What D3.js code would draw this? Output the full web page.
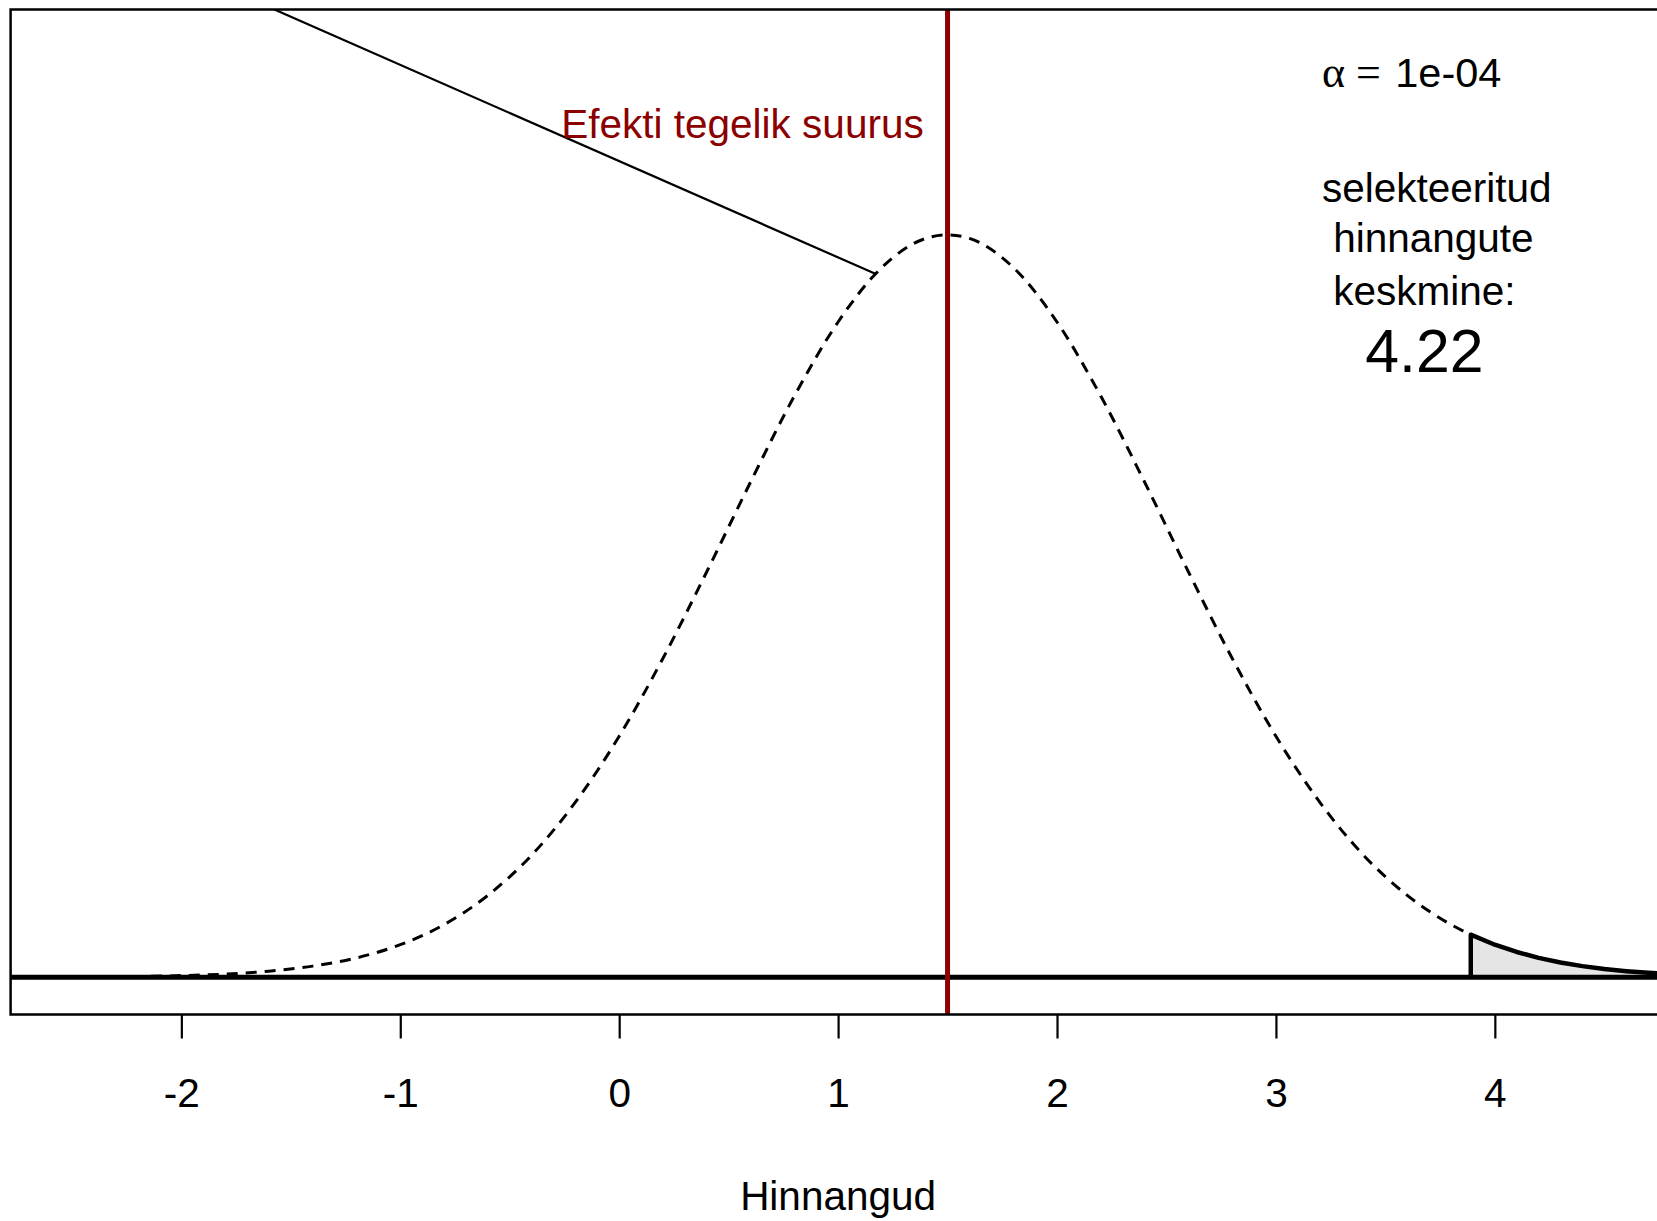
<!DOCTYPE html>
<html>
<head>
<meta charset="utf-8">
<script src="https://cdnjs.cloudflare.com/ajax/libs/d3/7.8.5/d3.min.js"></script>
<style>
  html, body { margin: 0; padding: 0; background: #ffffff; }
  svg { display: block; }
  text { font-family: "Liberation Sans", Arial, Helvetica, sans-serif; }
</style>
</head>
<body>
<svg id="chart" width="1657" height="1221"></svg>
<script>
// ---- data ----
const xTicks = [-2, -1, 0, 1, 2, 3, 4];
const xTickLabels = ["-2", "-1", "0", "1", "2", "3", "4"];
const xLabel = "Hinnangud";

// sampling distribution of the estimates (dashed curve)
const curveX = [-2.4, -2.2, -2.0, -1.8, -1.6, -1.4, -1.2, -1.0, -0.8, -0.6, -0.4, -0.2,
                0.0, 0.2, 0.4, 0.6, 0.8, 1.0, 1.2, 1.4, 1.5, 1.6, 1.8, 2.0, 2.2, 2.4,
                2.6, 2.8, 3.0, 3.2, 3.4, 3.6, 3.8, 3.89];
const curveY = [0.0002, 0.0004, 0.0009, 0.0017, 0.0033, 0.0060, 0.0104, 0.0175, 0.0283, 0.0440, 0.0656, 0.0941,
                0.1295, 0.1714, 0.2179, 0.2661, 0.3123, 0.3521, 0.3814, 0.3970, 0.3989, 0.3970, 0.3814, 0.3521, 0.3123, 0.2661,
                0.2179, 0.1714, 0.1295, 0.0941, 0.0656, 0.0440, 0.0283, 0.0229];

// selected (significant) tail
const tailX = [3.89, 4.0, 4.1, 4.2, 4.3, 4.4, 4.5, 4.6, 4.7, 4.8];
const tailY = [0.0229, 0.0175, 0.0136, 0.0104, 0.0079, 0.0060, 0.0044, 0.0033, 0.0024, 0.0017];

const trueEffect = 1.5;
const trueEffectLabel = "Efekti tegelik suurus";
const pointerLine = [[-1.575, 0.52], [1.17, 0.378]];

const alphaValue = "1e-04";
const meanLabelLines = ["selekteeritud", " hinnangute", " keskmine:"];
const selectedMean = "4.22";

// ---- scales ----
const svg = d3.select("#chart");
const x = d3.scaleLinear().domain([-2.78, 4.78]).range([10.6, 1665.6]);
const y = d3.scaleLinear().domain([-0.02, 0.52]).range([1014.5, 9.5]);

const [x0, x1] = x.range();
const [yb, yt] = y.range();

svg.append("defs").append("clipPath").attr("id", "plotclip")
  .append("rect").attr("x", x0).attr("y", yt).attr("width", x1 - x0).attr("height", yb - yt);

const plot = svg.append("g").attr("clip-path", "url(#plotclip)");

// shaded tail
const tailPts = tailX.map((v, i) => [v, tailY[i]]);
const area = d3.area().x(d => x(d[0])).y0(y(0)).y1(d => y(d[1]));
plot.append("path").datum(tailPts)
  .attr("d", area).attr("fill", "#e5e5e5").attr("stroke", "none");

// y = 0 baseline
plot.append("line")
  .attr("x1", x0).attr("x2", x1).attr("y1", y(0)).attr("y2", y(0))
  .attr("stroke", "#000").attr("stroke-width", 5);

// tail outline
const tailOutline = [[tailX[0], 0]].concat(tailPts);
plot.append("path").datum(tailOutline)
  .attr("d", d3.line().x(d => x(d[0])).y(d => y(d[1])))
  .attr("fill", "none").attr("stroke", "#000").attr("stroke-width", 4.5)
  .attr("stroke-linejoin", "round");

// dashed sampling distribution
const curvePts = curveX.map((v, i) => [v, curveY[i]]);
plot.append("path").datum(curvePts)
  .attr("d", d3.line().x(d => x(d[0])).y(d => y(d[1])).curve(d3.curveMonotoneX))
  .attr("fill", "none").attr("stroke", "#000").attr("stroke-width", 3)
  .attr("stroke-dasharray", "11,8");

// pointer line
plot.append("line")
  .attr("x1", x(pointerLine[0][0])).attr("y1", y(pointerLine[0][1]))
  .attr("x2", x(pointerLine[1][0])).attr("y2", y(pointerLine[1][1]))
  .attr("stroke", "#000").attr("stroke-width", 2.2);

// true effect line
plot.append("line")
  .attr("x1", x(trueEffect)).attr("x2", x(trueEffect))
  .attr("y1", yt).attr("y2", yb)
  .attr("stroke", "#8b0000").attr("stroke-width", 5);

// frame
svg.append("rect")
  .attr("x", x0).attr("y", yt).attr("width", x1 - x0).attr("height", yb - yt)
  .attr("fill", "none").attr("stroke", "#000").attr("stroke-width", 2.5);

// x axis
const axis = svg.append("g").attr("transform", `translate(0,${yb})`)
  .call(d3.axisBottom(x).tickValues(xTicks)
    .tickFormat((d, i) => xTickLabels[i]).tickSize(24).tickPadding(40));
axis.select(".domain").remove();
axis.selectAll(".tick line").attr("stroke", "#000").attr("stroke-width", 2.2);
axis.selectAll(".tick text")
  .attr("fill", "#000").style("font-size", "40.5px")
  .style("font-family", "'Liberation Sans', Arial, sans-serif");

svg.append("text")
  .attr("x", x(1)).attr("y", 1210)
  .attr("text-anchor", "middle").style("font-size", "40.5px").attr("fill", "#000")
  .text(xLabel);

// annotations
svg.append("text")
  .attr("x", x(1.391)).attr("y", y(0.4509))
  .attr("text-anchor", "end").style("font-size", "40.5px").attr("fill", "#8b0000")
  .text(trueEffectLabel);

const serif = "'Liberation Serif', 'DejaVu Serif', serif";
const at = svg.append("text")
  .attr("y", y(0.4784))
  .style("font-size", "40.5px").attr("fill", "#000");
at.append("tspan").attr("x", x(3.21)).style("font-family", serif).style("font-size", "44px").text("α");
at.append("tspan").attr("x", x(3.366)).style("font-family", serif).style("font-size", "44px").text("=");
at.append("tspan").attr("x", x(3.545)).style("font-size", "41.5px").text(alphaValue);

const lineY = [0.4167, 0.3898, 0.3611];
const mt = svg.append("text").style("font-size", "40.5px").attr("fill", "#000")
  .attr("xml:space", "preserve");
meanLabelLines.forEach((s, i) => {
  mt.append("tspan").attr("x", x(3.21)).attr("y", y(lineY[i]))
    .attr("xml:space", "preserve").text(s);
});

svg.append("text")
  .attr("x", x(3.678)).attr("y", y(0.3252))
  .attr("text-anchor", "middle").style("font-size", "60.75px").attr("fill", "#000")
  .text(selectedMean);
</script>
</body>
</html>
